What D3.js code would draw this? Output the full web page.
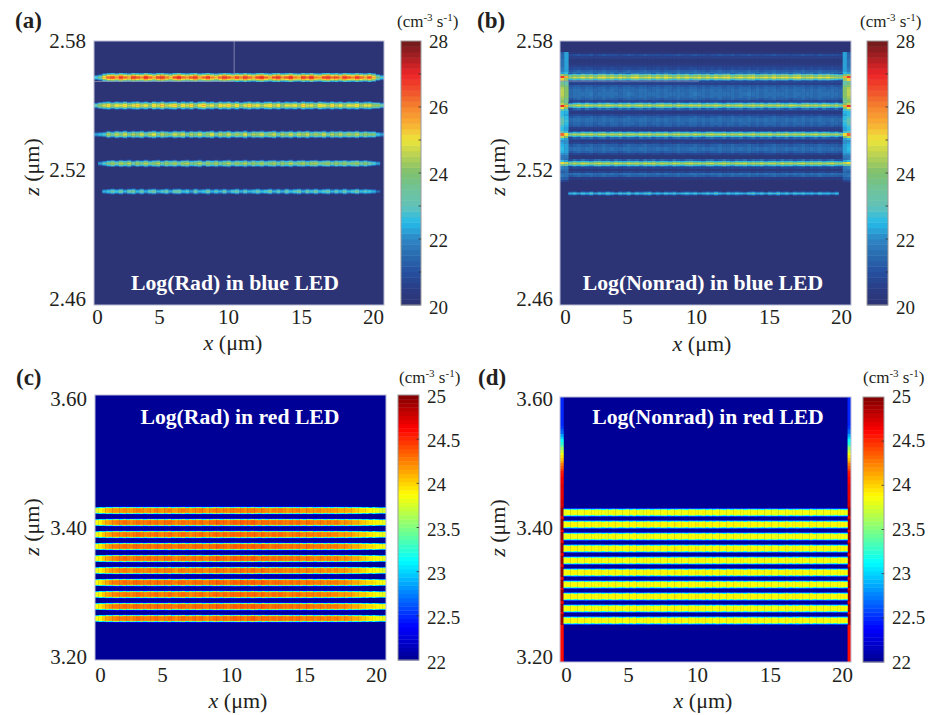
<!DOCTYPE html>
<html><head><meta charset="utf-8">
<style>html,body{margin:0;padding:0;background:#fff}svg{display:block}text{font-family:"Liberation Serif","Times New Roman",serif;fill:#231f20}</style>
<script src="https://cdn.jsdelivr.net/npm/d3@7"></script></head><body>
<svg id="chart" width="932" height="715"></svg>
<script>
// ---------- values ----------
const xTicks=[0,5,10,15,20];
const blueZTicks=[2.58,2.52,2.46];
const redZTicks=[3.60,3.40,3.20];
const blueBarTicks=[20,22,24,26,28];
const redBarTicks=[22,22.5,23,23.5,24,24.5,25];
const blueLevels=[20,20.5,21,21.5,22,22.5,23,23.5,24,24.5,25,25.5,26,26.5,27,27.5,28];
const blueColors=["#2e3272","#2a3d86","#25509f","#2a6bb0","#2f86c4","#25bbea","#63c2b8","#6fc39a","#7dc06f","#b4cf55","#ece53a","#f9ae33","#f5842f","#f0502b","#ed2428","#a91f23","#6d1a1c"];
const jetLevels=[22,22.375,23.125,23.875,24.625,25];
const jetColors=["#00008f","#0000ff","#00ffff","#ffff00","#ff0000","#800000"];

const aBandZ=[2.5633,2.5506,2.5376,2.5245,2.5114];
const aPeaks=[
[22.9,23.6,25.4,26.3,26.6,25.9,26.8,26.2,25.8,26.7,
 26.4,26.0,26.9,26.3,25.7,26.6,26.8,26.1,25.6,26.5,
 26.9,26.2,25.9,26.4,26.8,25.7,26.2,26.7,26.0,25.6,
 26.3,26.8,26.4,25.9,26.6,26.1,26.8,26.3,25.8,26.6,
 26.9,26.2,25.7,26.5,26.8,26.0,26.4,26.9,26.1,25.8,
 26.7,26.3,26.9,26.0,25.7,26.6,26.8,26.2,26.5,25.9,
 26.8,26.4,26.0,26.7,26.2,25.8,26.5,25.6,24.0,23.0],
[23.2,24.2,24.8,25.2,24.4,25.1,24.7,25.3,24.5,25.0,
 25.4,24.6,25.1,24.3,25.3,24.8,25.5,24.6,25.0,25.4,
 24.4,25.2,24.7,25.4,24.2,25.1,25.5,24.6,25.0,24.3,
 25.3,24.9,25.4,24.5,25.2,24.2,24.9,25.4,24.7,25.1,
 24.4,25.0,25.3,24.6,25.2,24.3,25.0,24.7,25.1,24.4,
 25.4,24.8,25.0,24.3,25.3,24.9,24.5,25.2,24.6,25.1,
 24.3,25.0,24.7,25.2,24.4,24.9,25.0,24.3,24.2,23.4],
[22.3,22.6,23.0,24.4,23.6,24.6,24.0,24.8,23.7,24.5,
 24.1,24.8,23.6,24.4,24.9,23.8,24.6,24.1,23.7,24.7,
 24.2,24.8,23.6,24.5,24.0,24.7,23.8,24.3,24.9,23.6,
 24.6,24.1,24.8,23.7,24.4,24.0,24.9,23.6,24.5,24.2,
 24.7,23.8,24.3,24.8,23.6,24.5,24.0,24.7,23.7,24.6,
 24.2,24.8,23.8,24.4,24.0,24.7,23.6,24.5,24.1,24.6,
 23.8,24.4,24.0,24.6,23.7,24.3,23.9,24.0,22.8,22.3],
[20,22.2,23.0,23.8,24.3,23.5,24.4,23.9,24.5,23.4,
 24.2,23.7,24.5,23.6,24.1,24.5,23.5,24.3,23.8,24.4,
 23.5,24.2,24.5,23.7,24.0,24.5,23.4,24.3,23.8,24.4,
 23.6,24.1,24.5,23.5,24.2,23.9,24.5,23.6,24.3,23.8,
 24.4,23.5,24.1,24.4,23.6,24.3,23.8,24.5,23.5,24.1,
 24.4,23.7,24.2,24.4,23.5,24.0,24.3,23.6,24.2,23.8,
 24.3,23.6,24.0,24.3,23.5,24.1,23.4,22.9,22.2,20],
[20,20,22.4,22.8,23.3,22.7,23.4,22.5,23.2,23.5,
 22.6,23.3,22.4,23.1,23.4,22.5,22.9,23.3,22.4,23.2,
 23.4,22.6,23.0,22.3,23.3,22.5,22.8,23.4,22.4,23.0,
 22.5,23.2,22.3,22.9,23.3,22.4,23.1,22.5,22.8,23.3,
 22.6,22.9,23.4,22.5,23.1,22.4,23.3,22.6,23.0,23.4,
 22.5,23.2,22.7,23.4,22.6,23.0,23.3,22.5,23.1,22.6,
 23.3,22.5,22.9,23.4,22.6,23.0,22.7,22.4,21.4,20]
];
const aCrossDrop=[0,0.35,1.3,2.6,4.0];

const bBandZ=[2.5636,2.5506,2.5374,2.5244,2.5106];
const bPeaks=[
[20,20,24.3,24.8,24.5,25.0,24.6,24.9,24.4,24.9,
 25.1,24.6,24.9,24.5,25.0,24.7,24.4,24.9,25.1,24.6,
 24.8,25.0,24.5,24.9,24.6,25.1,24.7,24.4,24.9,24.6,
 25.0,24.5,24.8,25.0,24.6,24.9,24.5,25.0,24.7,24.9,
 25.1,24.5,24.8,25.0,24.6,24.9,25.1,24.5,24.8,25.0,
 24.6,25.1,24.7,24.9,25.0,24.5,24.9,25.1,24.6,24.8,
 25.0,24.5,24.9,24.7,25.0,24.6,24.4,24.2,20,20],
[20,20,24.0,24.4,24.7,24.3,24.8,24.5,24.2,24.7,
 24.4,24.8,24.5,24.2,24.7,24.4,24.8,24.3,24.6,24.8,
 24.4,24.7,24.2,24.6,24.8,24.4,24.6,24.2,24.8,24.5,
 24.3,24.7,24.5,24.8,24.3,24.6,24.4,24.8,24.5,24.2,
 24.7,24.4,24.6,24.8,24.3,24.6,24.8,24.4,24.7,24.2,
 24.6,24.4,24.8,24.5,24.3,24.7,24.5,24.2,24.6,24.8,
 24.4,24.6,24.3,24.7,24.5,24.3,24.6,24.1,20,20],
[20,20,24.0,24.5,24.2,24.7,24.4,24.8,24.3,24.6,
 24.8,24.2,24.6,24.4,24.8,24.3,24.6,24.5,24.2,24.7,
 24.5,24.8,24.3,24.6,24.4,24.7,24.2,24.6,24.8,24.4,
 24.6,24.3,24.7,24.5,24.2,24.6,24.8,24.4,24.5,24.7,
 24.3,24.6,24.4,24.7,24.2,24.5,24.8,24.3,24.6,24.4,
 24.7,24.2,24.6,24.5,24.8,24.3,24.6,24.4,24.7,24.3,
 24.5,24.7,24.3,24.6,24.4,24.2,24.5,24.0,20,20],
[20,20,24.1,24.6,24.3,24.7,24.5,24.2,24.6,24.8,
 24.4,24.6,24.2,24.7,24.5,24.3,24.7,24.4,24.6,24.2,
 24.7,24.5,24.8,24.3,24.6,24.4,24.2,24.7,24.5,24.3,
 24.6,24.8,24.4,24.5,24.2,24.6,24.7,24.3,24.5,24.8,
 24.4,24.2,24.6,24.5,24.7,24.3,24.6,24.4,24.7,24.2,
 24.5,24.6,24.3,24.7,24.4,24.6,24.2,24.5,24.7,24.3,
 24.6,24.4,24.6,24.2,24.5,24.7,24.3,24.2,20,20],
[20,20,22.4,22.7,22.2,22.8,22.4,22.9,22.3,22.7,
 22.4,22.9,22.6,22.2,22.8,22.5,22.9,22.3,22.7,22.4,
 22.8,22.9,22.3,22.6,22.2,22.7,22.5,22.8,22.3,22.5,
 22.8,22.4,22.7,22.2,22.5,22.8,22.4,22.9,22.5,22.3,
 22.7,22.4,22.8,22.5,22.2,22.7,22.9,22.4,22.7,22.3,
 22.8,22.5,22.9,22.4,22.7,22.3,22.8,22.5,22.8,22.4,
 22.6,22.3,22.7,22.4,22.6,22.3,22.6,20,20,20]
];
const bCrossDrop=[0,0.7,1.9,3.2];
// rows 0.001 um apart, from 2.575 um downward
const bHaloRows=[20.3,20.9,20.5,20.3,20.3,20.4,20.6,20.8,21.25,21.45,21.75,21.95,21.85,20.8,20.5,21.15,21.35,21.45,21.55,21.55,
 21.45,21.25,20.7,21.15,21.95,21.85,20.8,20.4,20.8,21.25,21.45,21.45,21.35,21.15,20.6,20.4,21.15,21.95,21.85,20.8,
 20.4,20.7,21.25,21.45,21.45,21.25,20.7,20.3,20.2,20.6,21.85,21.75,20.7,20.3,20.7,21.45,21.25,20.4,20];
const bEdgeOuter=[21.3,21.4,21.4,21.5,21.5,21.5,21.6,21.7,21.9,22.3,24.3,26.8,25.3,23.6,23.8,24.1,24.4,24.5,24.5,24.5,
 24.4,24.2,24,24.6,26.9,25,23.2,22.6,22.6,22.8,23,23.1,23,22.8,22.6,22.5,23.1,26.2,24.6,22.5,
 22.1,22.2,22.4,22.6,22.6,22.4,22.1,21.8,21.7,22.5,25,23.6,21.9,21.5,21.3,21.5,21.7,21.3,20.7];
const bEdgeInner=[22.2,22.3,22.3,22.3,22.2,22.2,22.2,22.2,22.3,22.5,23.8,25.6,24.3,23.1,23.3,23.7,24,24.1,24.1,24.1,
 24,23.8,23.6,24.1,25.6,24.1,22.8,22.4,22.3,22.5,22.6,22.7,22.6,22.4,22.3,22.2,22.7,25,24,22.3,
 22,22.1,22.2,22.3,22.3,22.2,22,21.7,21.6,22.2,24.6,23.3,21.8,21.5,21.4,21.5,21.6,21.2,20.6];
const bHaloStreak=[0,0,-0.1,0.05,0.1,-0.05,0.05,0.12,-0.08,0,
 0.1,-0.05,0.08,0.02,-0.1,0.05,0.12,0,-0.08,0.05,
 0.1,-0.05,0,0.08,-0.1,0.05,0.02,-0.05,0.1,0,
 -0.08,0.05,0.12,-0.02,0.05,-0.1,0.08,0,0.1,-0.05,
 0.02,0.1,-0.08,0.05,0,0.12,-0.05,0.05,-0.1,0.08,
 0,0.1,-0.05,0.02,0.08,-0.1,0.05,0,0.1,-0.05,
 0.05,-0.08,0.1,0,-0.05,0.08,0,-0.1,0,0];

const redBandZ=[3.425,3.407,3.389,3.371,3.353,3.335,3.317,3.299,3.281,3.263];
const cBandOffset=[-0.05,0.02,0,0.03,0.02,-0.02,0.03,0,0.03,0.01];
const dBandOffset=[-0.02,0.02,-0.02,0.02,0,0.02,-0.01,0.02,0,0.01];
const cAlong=[23.82,23.9,24.02,24.12,24.18,24.22,24.25,24.24,24.28,24.25,24.22,24.27,24.3,24.26,24.24,24.28,24.25,24.3,24.27,24.24,
 24.28,24.3,24.25,24.22,24.27,24.3,24.26,24.24,24.29,24.27,24.31,24.26,24.23,24.28,24.3,24.33,24.28,24.3,24.26,24.31,
 24.34,24.3,24.33,24.28,24.31,24.34,24.3,24.27,24.32,24.29,24.25,24.3,24.27,24.31,24.26,24.24,24.29,24.26,24.3,24.25,
 24.23,24.28,24.25,24.22,24.26,24.24,24.21,24.25,24.22,24.24,24.2,24.18,24.2,24.16,24.12,24.1,24.06,24.02,23.98,23.94,
 23.9,23.86,23.82,23.8];
const dAlong=[23.87,23.84,23.88,23.86,23.89,23.85,23.87,23.9,23.86,23.88,23.85,23.89,23.87,23.84,23.88,23.9,23.86,23.88,23.85,23.89,
 23.87,23.9,23.86,23.84,23.88,23.9,23.87,23.85,23.89,23.87,23.9,23.86,23.88,23.91,23.87,23.89,23.86,23.9,23.88,23.91,
 23.88,23.9,23.87,23.89,23.86,23.9,23.88,23.85,23.89,23.87,23.9,23.86,23.88,23.85,23.89,23.87,23.9,23.86,23.88,23.85,
 23.89,23.87,23.84,23.88,23.86,23.89,23.85,23.87,23.9,23.86,23.88,23.85,23.89,23.87,23.84,23.88,23.86,23.89,23.85,23.87,
 23.86,23.88,23.87,23.87];
const redEdgeRipple=[0,0.15,-0.1,0.15,-0.15,0.1,0.15,-0.15,0.1,-0.1,0.15,0,-0.15,0.15,-0.1,0.1,0.15,-0.15,0,0.15,
 -0.1,0.15,-0.15,0.1,0,0.15,-0.15,0.1,-0.1,0.15,0,-0.15,0.15,-0.1,0.15,0.05,-0.15,0.1,0.15,-0.1,
 0,0.15,-0.15,0.1,-0.1,0.15,0.05,-0.15,0.15,-0.1,0.1,0,0.15,-0.15,0.1,0.15,-0.1,0.05,-0.15,0.15,
 -0.1,0.1,0.15,-0.15,0,0.15,-0.1,0.1,-0.15,0.15,0,-0.1,0.15,-0.15,0.1,0,0.15,-0.1,0.1,-0.15,
 0.15,0,-0.1,0];
const cCrossDrop=[0,0,0.05,0.9,1.9];
const dCrossDrop=[0,0,0.03,0.55,1.3];
// rows 0.004 um apart, from 3.60 um downward
const dStripRows=[22.5,22.5,22.5,22.5,22.5,22.5,22.5,22.5,22.5,22.5,22.5,22.55,22.62,22.7,22.85,23,23.15,23.25,23.4,23.55,
 23.7,23.85,23.95,24.05,24.15,24.25,24.35,24.45,24.55,24.62,24.65,24.66,24.67,24.68,24.68,24.68,24.7,24.7,24.7,24.72,
 24.75,24.8,24.95,24.95,24.95,24.7,24.95,24.95,24.95,24.95,24.7,24.95,24.95,24.95,24.7,24.95,24.95,24.95,24.95,24.7,
 24.95,24.95,24.95,24.7,24.95,24.95,24.95,24.95,24.7,24.95,24.95,24.95,24.7,24.95,24.95,24.95,24.95,24.7,24.95,24.95,
 24.95,24.7,24.95,24.95,24.95,24.9,24.62,24.62,24.62,24.62,24.62,24.62,24.62,24.62,24.62,24.62,24.62,24.62,24.62,24.62];

const panelLabels=["(a)","(b)","(c)","(d)"];
const panelTitles=["Log(Rad) in blue LED","Log(Nonrad) in blue LED","Log(Rad) in red LED","Log(Nonrad) in red LED"];

// ---------- layout ----------
const xTickOffsets=[0,62,131,204,276];
const layout=[
 {f:[94,384,41,305],bar:[401,421,41,305],barLab:[41,307],x0:97,xLabY:317,yLab:[41,299],yLabR:86,unit:[397,26.5],pl:[15,28],zt:[32,167],xt:[233,350],tt:[235,290]},
 {f:[560,851,41,305],bar:[867,888,41,305],barLab:[41,307],x0:565,xLabY:317,yLab:[41,299],yLabR:553,unit:[860,26.5],pl:[477,28],zt:[498,167],xt:[702,351],tt:[703,290]},
 {f:[95,386,395,660],bar:[398,419,395,660],barLab:[396,662],x0:100,xLabY:675,yLab:[399,657],yLabR:87,unit:[399,383],pl:[16,385],zt:[32,527],xt:[238,708],tt:[240,424]},
 {f:[560,851,397,662],bar:[863,884,397,662],barLab:[396,662],x0:566,xLabY:675,yLab:[399,657],yLabR:553,unit:[863,383],pl:[478,385],zt:[498,528],xt:[703,708],tt:[708,424]}
];

const xDomain=[-0.2,20.8];
const blueZ=[2.46,2.58], redZ=[3.20,3.60];
const svg=d3.select("#chart");
const defs=svg.append("defs");
[["blurBlue",0.7],["blurRed",0.45]].forEach(([id,s])=>{
  defs.append("filter").attr("id",id).attr("x","-5%").attr("y","-5%").attr("width","110%").attr("height","110%")
    .append("feGaussianBlur").attr("stdDeviation",s);
});

function levelled(levels,colors,n){
  const lin=d3.scaleLinear().domain(levels).range(colors).clamp(true);
  const lo=levels[0],hi=levels[levels.length-1];
  return d3.scaleQuantize().domain([lo,hi]).range(d3.range(n).map(i=>lin(lo+(i+.5)*(hi-lo)/n)));
}
const blueColor=levelled(blueLevels,blueColors,48);
const redColor=levelled(jetLevels,jetColors,64);

// ---------- cells per panel ----------
function bandCells(cells,bandZ,valueAt,nBins,rowH,drops,binW,minV){
  bandZ.forEach((zc,b)=>{
    for(let i=0;i<nBins;i++){
      for(let k=-(drops.length-1);k<drops.length;k++){
        const v=valueAt(b,i,Math.abs(k));
        if(v<minV) continue;
        const x0=xDomain[0]+i*binW;
        cells.push({x0,x1:x0+binW,z0:zc-(k+.5)*rowH,z1:zc-(k-.5)*rowH,v});
      }
    }
  });
}
function cellsA(){
  const c=[];
  bandCells(c,aBandZ,(b,i,k)=>aPeaks[b][i]-aCrossDrop[k],70,0.00045,aCrossDrop,0.3,20.4);
  return c;
}
function rowCells(c,rows,zTop,dz,i,binW){
  rows.forEach((v,r)=>{
    const x0=xDomain[0]+i*binW;
    c.push({x0,x1:x0+binW,z0:zTop-(r+1)*dz,z1:zTop-r*dz,v});
  });
}
function cellsB(){
  const c=[];
  for(let i=2;i<68;i++){
    const rows=bHaloRows.map(v=>v>20.6?v+bHaloStreak[i]:v);
    rowCells(c,rows,2.575,0.001,i,0.3);
  }
  rowCells(c,bEdgeOuter,2.575,0.001,-1,0.3);
  rowCells(c,bEdgeOuter,2.575,0.001,0,0.3);
  rowCells(c,bEdgeInner,2.575,0.001,1,0.3);
  rowCells(c,bEdgeInner,2.575,0.001,68,0.3);
  rowCells(c,bEdgeOuter,2.575,0.001,69,0.3);
  rowCells(c,bEdgeOuter,2.575,0.001,70,0.3);
  bandCells(c,bBandZ,(b,i,k)=>bPeaks[b][i]-bCrossDrop[k],70,0.0005,bCrossDrop,0.3,20.5);
  return c;
}
function cellsC(){
  const c=[];
  bandCells(c,redBandZ,(b,i,k)=>cAlong[i]+cBandOffset[b]-cCrossDrop[k]+(k===3?redEdgeRipple[i]:0),84,0.00151,cCrossDrop,0.25,22.05);
  return c;
}
function cellsD(){
  const c=[];
  [-1,0,83,84].forEach(i=>rowCells(c,dStripRows,3.6,0.004,i,0.25));
  bandCells(c,redBandZ,(b,i,k)=>(i===0||i===83)?0:dAlong[i]+dBandOffset[b]-dCrossDrop[k]+(k===3?redEdgeRipple[i]:0),84,0.00151,dCrossDrop,0.25,22.05);
  return c;
}

const extras=[
 [{x1:9.95,x2:9.95,z1:2.58,z2:2.5648},{x1:-0.2,x2:9.95,z1:2.5616,z2:2.5616}],
 [{x1:-0.2,x2:9.83,z1:2.5618,z2:2.5618}],[],[]
];

const panels=[
 {zDom:blueZ,zTicks:blueZTicks,zFmt:".2f",color:blueColor,bar:[20,28],barTicks:blueBarTicks,minor:d3.range(20,29),cells:cellsA(),filter:"blurBlue",fmt:d3.format("d")},
 {zDom:blueZ,zTicks:blueZTicks,zFmt:".2f",color:blueColor,bar:[20,28],barTicks:blueBarTicks,minor:d3.range(20,29),cells:cellsB(),filter:"blurBlue",fmt:d3.format("d")},
 {zDom:redZ,zTicks:redZTicks,zFmt:".2f",color:redColor,bar:[22,25],barTicks:redBarTicks,minor:redBarTicks,cells:cellsC(),filter:"blurRed",fmt:d=>String(d)},
 {zDom:redZ,zTicks:redZTicks,zFmt:".2f",color:redColor,bar:[22,25],barTicks:redBarTicks,minor:redBarTicks,cells:cellsD(),filter:"blurRed",fmt:d=>String(d)}
];

panels.forEach((p,idx)=>{
  const L=layout[idx], [fx0,fx1,fy0,fy1]=L.f;
  const g=svg.append("g").attr("class","panel");
  const x=d3.scaleLinear().domain(xDomain).range([fx0,fx1]);
  const z=d3.scaleLinear().domain(p.zDom).range([fy1,fy0]);
  const clipId="clip"+idx;
  defs.append("clipPath").attr("id",clipId).append("rect").attr("x",fx0).attr("y",fy0).attr("width",fx1-fx0).attr("height",fy1-fy0);

  g.append("rect").attr("x",fx0).attr("y",fy0).attr("width",fx1-fx0).attr("height",fy1-fy0).attr("fill",p.color(p.bar[0]));
  g.append("g").attr("clip-path",`url(#${clipId})`).append("g").attr("filter",`url(#${p.filter})`)
    .selectAll("rect").data(p.cells).join("rect")
    .attr("x",d=>x(d.x0)).attr("width",d=>x(d.x1)-x(d.x0)+.3)
    .attr("y",d=>Math.round(z(d.z1))).attr("height",d=>Math.max(1,Math.round(z(d.z0))-Math.round(z(d.z1))))
    .attr("fill",d=>p.color(d.v));
  g.append("g").selectAll("line").data(extras[idx]).join("line")
    .attr("x1",d=>x(d.x1)).attr("x2",d=>x(d.x2)).attr("y1",d=>z(d.z1)).attr("y2",d=>z(d.z2))
    .attr("stroke","#8f94b4").attr("stroke-width",.8);
  g.append("rect").attr("x",fx0).attr("y",fy0).attr("width",fx1-fx0).attr("height",fy1-fy0)
    .attr("fill","none").attr("stroke","#b9bcd4").attr("stroke-width",1);

  // axes
  const xLab=d3.scaleLinear().domain(xTicks).range(xTickOffsets.map(o=>L.x0+o));
  const xAxis=g.append("g").attr("transform",`translate(0,${L.xLabY-7.6})`)
    .call(d3.axisBottom(xLab).tickValues(xTicks).tickSize(0).tickPadding(0).tickFormat(d3.format("d")));
  const zLab=d3.scaleLinear().domain(p.zDom).range([L.yLab[1],L.yLab[0]]);
  const yAxis=g.append("g").attr("transform",`translate(${L.yLabR},0)`)
    .call(d3.axisLeft(zLab).tickValues(p.zTicks).tickSize(0).tickPadding(0).tickFormat(d3.format(p.zFmt)));
  [xAxis,yAxis].forEach(a=>{a.select(".domain").remove();a.selectAll("text").attr("font-size",21).attr("font-family",'"Liberation Serif",serif').attr("fill","#231f20");});

  // colour bar
  const [bx0,bx1,by0,by1]=L.bar;
  const b=d3.scaleLinear().domain(p.bar).range([by1,by0]);
  g.append("g").selectAll("rect").data(p.color.range()).join("rect")
    .attr("x",bx0).attr("width",bx1-bx0)
    .attr("y",c=>b(p.color.invertExtent(c)[1])).attr("height",c=>b(p.color.invertExtent(c)[0])-b(p.color.invertExtent(c)[1])+.4)
    .attr("fill",c=>c);
  g.append("rect").attr("x",bx0).attr("y",by0).attr("width",bx1-bx0).attr("height",by1-by0)
    .attr("fill","none").attr("stroke","#9a9a9a").attr("stroke-width",1);
  g.append("g").selectAll("line").data(p.minor.slice(1,-1)).join("line")
    .attr("x1",bx1-2.5).attr("x2",bx1).attr("y1",d=>b(d)).attr("y2",d=>b(d))
    .attr("stroke","#333").attr("stroke-width",.8);
  const barLab=d3.scaleLinear().domain(p.bar).range([L.barLab[1],L.barLab[0]]);
  const barAxis=g.append("g").attr("transform",`translate(${bx1+8},0)`)
    .call(d3.axisRight(barLab).tickValues(p.barTicks).tickSize(0).tickPadding(0).tickFormat(p.fmt));
  barAxis.select(".domain").remove();
  barAxis.selectAll("text").attr("font-size",19).attr("font-family",'"Liberation Serif",serif').attr("fill","#231f20");

  // unit
  const u=g.append("text").attr("x",L.unit[0]).attr("y",L.unit[1]).attr("font-size",17);
  u.append("tspan").text("(cm");
  u.append("tspan").text("-3").attr("dy",-6).attr("font-size",11);
  u.append("tspan").text(" s").attr("dy",6);
  u.append("tspan").text("-1").attr("dy",-6).attr("font-size",11);
  u.append("tspan").text(")").attr("dy",6);

  g.append("text").attr("x",L.pl[0]).attr("y",L.pl[1]).attr("font-size",23).attr("font-weight","bold").text(panelLabels[idx]);
  const zt=g.append("text").attr("transform",`translate(${L.zt[0]+7},${L.zt[1]}) rotate(-90)`).attr("text-anchor","middle").attr("font-size",22);
  zt.append("tspan").attr("font-style","italic").text("z");
  zt.append("tspan").text(" (μm)");
  const xt=g.append("text").attr("x",L.xt[0]).attr("y",L.xt[1]).attr("text-anchor","middle").attr("font-size",22);
  xt.append("tspan").attr("font-style","italic").text("x");
  xt.append("tspan").text(" (μm)");
  g.append("text").attr("x",L.tt[0]).attr("y",L.tt[1]).attr("text-anchor","middle").attr("font-size",21.7).attr("font-weight","bold").style("fill","#fff").text(panelTitles[idx]);
});
</script></body></html>
